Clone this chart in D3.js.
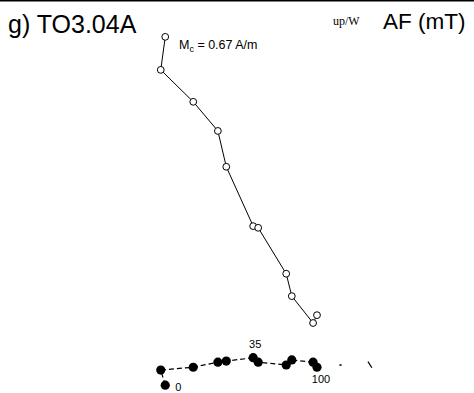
<!DOCTYPE html>
<html><head><meta charset="utf-8">
<script src="https://cdn.jsdelivr.net/npm/d3@7"></script>
<style>body{margin:0;background:#fff}svg{display:block}</style>
</head><body>
<script>
// AF demagnetization steps (mT)
const steps = [0, 5, 10, 15, 25, 35, 40, 50, 60, 80, 100];
// shared horizontal component (mA/m)
const compX = [-321, -329, -271, -227, -212, -164, -155, -105, -95, -57, -50];
// vertical projection (up, mA/m) - open symbols
const compUp = [586, 527, 470, 418, 354, 248, 245, 163, 123, 75, 89];
// horizontal projection (mA/m) - filled symbols
const compH = [-36, -9, -4, 5, 7, 13, 5, 0, 9, 5, -4];
const labeledSteps = [0, 35, 100];

const W = 474, H = 393;
const svg = d3.select("body").append("svg").attr("width", W).attr("height", H);
svg.append("rect").attr("width", W).attr("height", H).attr("fill", "#fff");
svg.append("rect").attr("x", 0).attr("y", 0).attr("width", W).attr("height", 1.5).attr("fill", "#000");

const k = 0.56;
const x = d3.scaleLinear().domain([-400, 100]).range([345 - 400 * k, 345 + 100 * k]);
const y = d3.scaleLinear().domain([-50, 600]).range([365 + 50 * k, 365 - 600 * k]);

const openPts = steps.map((s, i) => ({s, x: compX[i], y: compUp[i]}));
const fillPts = steps.map((s, i) => ({s, x: compX[i], y: compH[i]}));
const line = d3.line().x(d => x(d.x)).y(d => y(d.y));

svg.append("path").datum(openPts).attr("d", line)
  .attr("fill", "none").attr("stroke", "#000").attr("stroke-width", 1);
svg.append("path").datum(fillPts).attr("d", line)
  .attr("fill", "none").attr("stroke", "#000").attr("stroke-width", 1.2)
  .attr("stroke-dasharray", "5,3");

svg.selectAll("circle.open").data(openPts).join("circle").attr("class", "open")
  .attr("cx", d => x(d.x)).attr("cy", d => y(d.y)).attr("r", 3.4)
  .attr("fill", "#fff").attr("stroke", "#000").attr("stroke-width", 1);
svg.selectAll("circle.fill").data(fillPts).join("circle").attr("class", "fill")
  .attr("cx", d => x(d.x)).attr("cy", d => y(d.y)).attr("r", 4.6)
  .attr("fill", "#000");

// origin marks
svg.append("line").attr("x1", x(-10)).attr("x2", x(-6)).attr("y1", y(0)).attr("y2", y(0))
  .attr("stroke", "#000").attr("stroke-width", 1.5);
svg.append("line").attr("x1", x(41)).attr("x2", x(48)).attr("y1", y(6)).attr("y2", y(-5))
  .attr("stroke", "#000").attr("stroke-width", 1.2);

// step labels
const labPos = {0: [10, 6], 35: [2, -10], 100: [4, 16]};
svg.selectAll("text.step").data(fillPts.filter(d => labeledSteps.includes(d.s))).join("text")
  .attr("class", "step")
  .attr("x", d => x(d.x) + labPos[d.s][0]).attr("y", d => y(d.y) + labPos[d.s][1])
  .attr("text-anchor", d => d.s === 0 ? "start" : "middle")
  .attr("fill", "#000")
  .attr("font-family", "Liberation Sans, Arial, sans-serif").attr("font-size", 11)
  .text(d => d.s);

svg.append("text").attr("x", 8).attr("y", 33).attr("fill", "#000")
  .attr("font-family", "Liberation Sans, Arial, sans-serif").attr("font-size", 25)
  .text("g) TO3.04A");
svg.append("text").attr("x", 333).attr("y", 25).attr("fill", "#000")
  .attr("font-family", "Liberation Serif, Times New Roman, serif").attr("font-size", 12)
  .text("up/W");
svg.append("text").attr("x", 383).attr("y", 29).attr("fill", "#000")
  .attr("font-family", "Liberation Sans, Arial, sans-serif").attr("font-size", 22.5)
  .text("AF (mT)");
const mc = svg.append("text").attr("x", 179).attr("y", 49).attr("fill", "#000")
  .attr("font-family", "Liberation Sans, Arial, sans-serif").attr("font-size", 12.5);
mc.append("tspan").text("M");
mc.append("tspan").attr("dy", 3).attr("font-size", 9).text("c");
mc.append("tspan").attr("dy", -3).text(" = 0.67 A/m");
</script>
</body></html>
